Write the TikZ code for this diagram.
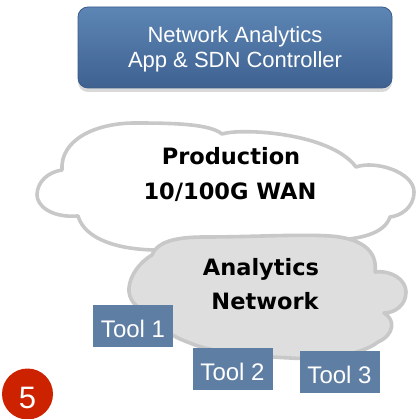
\documentclass[tikz,border=0pt]{standalone}
\usepackage{fontspec}
\setmainfont{Liberation Sans}
\newfontfamily\cloudfont{DejaVu Sans}
\usetikzlibrary{shadows}
\definecolor{hdrtop}{HTML}{5D86B5}
\definecolor{hdrbot}{HTML}{3E6190}
\definecolor{hdredge}{HTML}{3A5C8A}
\definecolor{cloudedge}{HTML}{C8C8C8}
\definecolor{cloudfill}{HTML}{DEDEDE}
\definecolor{toolfill}{HTML}{5F7EA3}
\definecolor{badgered}{HTML}{CC2200}
\tikzset{
  hdr/.style={rounded corners=10pt, top color=hdrtop, bottom color=hdrbot, draw=hdredge, line width=0.8pt,
    drop shadow={shadow xshift=0pt, shadow yshift=-4pt, opacity=0.3}},
  hdrtext/.style={text=white, font=\fontsize{22}{25}\selectfont, anchor=base, inner sep=0pt},
  wancloud/.style={draw=cloudedge, line width=3.6pt, fill=white, line join=round},
  anacloud/.style={draw=cloudedge, line width=3.6pt, fill=cloudfill, line join=round},
  cloudtext/.style={font=\cloudfont\bfseries\fontsize{22.5}{30}\selectfont, text=black, anchor=base, inner sep=0pt},
  toolbox/.style={fill=toolfill, minimum width=80pt, minimum height=42pt, inner sep=0pt},
  tooltext/.style={text=white, font=\fontsize{24}{28}\selectfont, anchor=base, inner sep=0pt},
  badge/.style={circle, fill=badgered, minimum size=51pt, inner sep=0pt},
  badgetext/.style={text=white, font=\fontsize{31}{34}\selectfont, anchor=base, inner sep=0pt}
}
\begin{document}
\begin{tikzpicture}[x=1pt,y=-1pt]
\useasboundingbox (0,0) rectangle (419,419);
% header
\node[hdr, minimum width=314pt, minimum height=81pt] (ctrl) at (235,47.5) {};
\node[hdrtext] (ctrl1) at (235,43) {Network Analytics};
\node[hdrtext] (ctrl2) at (235,68) {App \& SDN Controller};
% production cloud
\path[wancloud]
  (62,170) .. controls (60,140) and (95,123) .. (135,123)
  .. controls (175,123) and (210,124) .. (222,134)
  .. controls (240,128) and (330,132) .. (356,167)
  .. controls (375,160) and (414,172) .. (414,192)
  .. controls (414,208) and (400,216) .. (390,217)
  .. controls (385,232) and (365,238) .. (340,240)
  .. controls (300,252) and (200,252) .. (158,250)
  .. controls (120,250) and (85,240) .. (78,216)
  .. controls (50,218) and (37,205) .. (37,195)
  .. controls (37,182) and (48,172) .. (62,170) -- cycle;
% analytics cloud
\path[anacloud]
  (152,255) .. controls (158,240) and (180,237) .. (205,237)
  .. controls (250,237) and (300,234) .. (330,236)
  .. controls (360,238) and (378,250) .. (375,272)
  .. controls (392,270) and (406,280) .. (406,292)
  .. controls (406,305) and (395,313) .. (384,313)
  .. controls (396,320) and (394,335) .. (378,342)
  .. controls (360,356) and (320,360) .. (290,358)
  .. controls (250,356) and (210,352) .. (190,343)
  .. controls (170,336) and (155,325) .. (152,312)
  .. controls (135,310) and (128,298) .. (129,288)
  .. controls (130,275) and (140,262) .. (152,255) -- cycle;
\node[cloudtext] (wan1) at (231,165) {Production};
\node[cloudtext] (wan2) at (230,200) {10/100G WAN};
\node[cloudtext] (ana1) at (261,275) {Analytics};
\node[cloudtext] (ana2) at (265,309) {Network};
% tools
\node[toolbox] (t1) at (133,326) {};
\node[tooltext] (t1t) at (t1.center) [yshift=-11pt] {Tool 1};
\node[toolbox] (t2) at (232.5,369) {};
\node[tooltext] (t2t) at (t2.center) [yshift=-11pt] {Tool 2};
\node[toolbox] (t3) at (339.5,372) {};
\node[tooltext] (t3t) at (t3.center) [yshift=-11pt] {Tool 3};
% badge
\node[badge] (five) at (27.5,394) {};
\node[badgetext] (fivet) at (27.5,408) {5};
\end{tikzpicture}
\end{document}
